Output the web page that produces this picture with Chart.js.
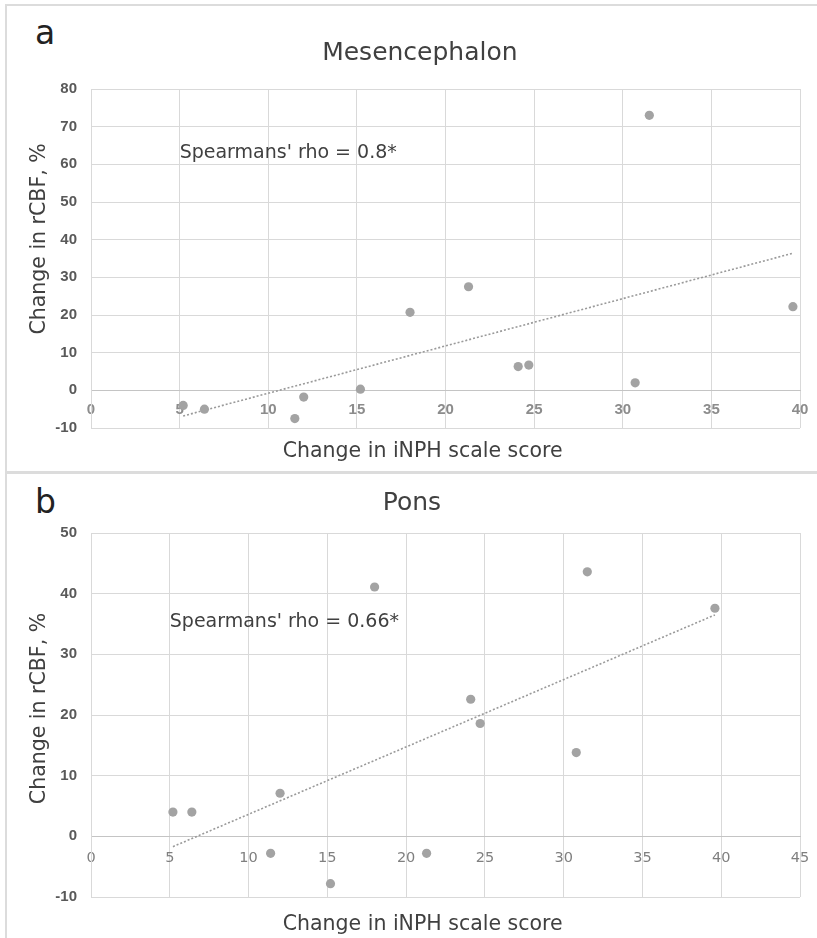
<!DOCTYPE html>
<html>
<head>
<meta charset="utf-8">
<script src="https://cdn.jsdelivr.net/npm/chart.js@4.4.1/dist/chart.umd.min.js"></script>
<style>
  body { margin: 0; width: 817px; height: 938px; overflow: hidden; background: #fff; position: relative; }
  .line { position: absolute; background: #dcdcdc; }
  .wrap { position: absolute; left: 8px; width: 809px; }
  .tag { position: absolute; font-family: 'DejaVu Sans', sans-serif; font-size: 33px; color: #222; line-height: 1; }
</style>
</head>
<body>
<div class="line" style="left:5px; top:4px; width:812px; height:2px;"></div>
<div class="line" style="left:5px; top:4px; width:2px; height:934px;"></div>
<div class="line" style="left:5px; top:471px; width:812px; height:3px;"></div>

<div class="tag" style="left:35px; top:16px;">a</div>
<div class="tag" style="left:35px; top:485px;">b</div>

<div class="wrap" style="top:6px; height:466px;"><canvas id="chartA"></canvas></div>
<div class="wrap" style="top:475px; height:463px;"><canvas id="chartB"></canvas></div>

<script>
// Mesencephalon
const mesX = [5.2, 6.4, 11.5, 12.0, 15.2, 18.0, 21.3, 24.1, 24.7, 30.7, 31.5, 39.6];
const mesY = [-4.0, -5.0, -7.5, -1.8, 0.3, 20.7, 27.5, 6.3, 6.7, 2.0, 73.0, 22.2];
const mesTrendX = [5.2, 39.6];
const mesTrendY = [-6.8, 36.4];

// Pons
const ponsX = [5.2, 6.4, 11.4, 12.0, 15.2, 18.0, 21.3, 24.1, 24.7, 30.8, 31.5, 39.6];
const ponsY = [4.0, 4.0, -2.8, 7.1, -7.8, 41.1, -2.8, 22.6, 18.6, 13.8, 43.6, 37.6];
const ponsTrendX = [5.2, 39.6];
const ponsTrendY = [-1.7, 36.5];

const xTitle = 'Change in iNPH scale score';
const yTitle = 'Change in rCBF, %';

const toPoints = (xs, ys) => xs.map((x, i) => ({ x: x, y: ys[i] }));
const pad = n => ' '.repeat(n);

// draws the rho text at a data position
const notePlugin = {
  id: 'note',
  afterDatasetsDraw(chart, args, opts) {
    const { ctx, scales } = chart;
    ctx.save();
    ctx.font = '19px "DejaVu Sans", sans-serif';
    ctx.fillStyle = '#404040';
    ctx.textAlign = 'left';
    ctx.textBaseline = 'middle';
    ctx.fillText(opts.text, scales.x.getPixelForValue(opts.x), scales.y.getPixelForValue(opts.y));
    ctx.restore();
  }
};

function makeChart(id, cfg) {
  const grid = '#d9d9d9';
  return new Chart(document.getElementById(id), {
    type: 'scatter',
    data: {
      datasets: [{
        data: toPoints(cfg.xs, cfg.ys),
        backgroundColor: '#a3a3a3',
        borderWidth: 0,
        pointRadius: 4.6
      }, {
        data: toPoints(cfg.tx, cfg.ty),
        showLine: true,
        borderColor: '#9a9a9a',
        borderWidth: 1.6,
        borderDash: [2, 2],
        pointRadius: 0
      }]
    },
    options: {
      responsive: true,
      maintainAspectRatio: false,
      animation: false,
      layout: { padding: { left: 0, right: 17, top: 0, bottom: 0 } },
      plugins: {
        legend: { display: false },
        tooltip: { enabled: false },
        title: {
          display: true,
          // leading spaces nudge the centred title to the right
          text: pad(cfg.titleSpaces) + cfg.title,
          color: '#404040',
          font: { family: 'DejaVu Sans', size: 25, weight: 'normal' },
          padding: cfg.titlePad
        },
        note: { text: cfg.note, x: 5, y: cfg.noteY }
      },
      scales: {
        x: {
          type: 'linear',
          position: { y: 0 },
          min: 0, max: cfg.xMax,
          afterFit: s => { s.height = 0; s.paddingLeft = 0; s.paddingRight = 0; },
          grid: { color: grid, drawTicks: false },
          border: { color: '#c4c4c4' },
          ticks: {
            stepSize: 5, autoSkip: false, maxRotation: 0, padding: cfg.xTickPad,
            color: cfg.xTickColor,
            font: cfg.xTickFont
          }
        },
        xt: {
          type: 'linear',
          axis: 'x',
          position: 'bottom',
          min: 0, max: cfg.xMax,
          grid: { display: false, drawTicks: false },
          border: { display: false },
          ticks: { display: false },
          title: {
            display: true,
            text: xTitle + pad(7),
            color: '#404040',
            font: { family: 'DejaVu Sans', size: 20.5 },
            padding: cfg.xTitlePad
          }
        },
        y: {
          min: cfg.yMin, max: cfg.yMax,
          afterFit: s => { s.width = 83; },
          grid: {
            drawTicks: false,
            color: c => c.tick && c.tick.value === 0 ? '#c4c4c4' : grid
          },
          border: { color: grid },
          ticks: {
            stepSize: 10, padding: 14,
            color: '#595959',
            font: { family: 'Liberation Sans', size: 15, weight: 'bold' }
          },
          title: {
            display: true,
            text: pad(cfg.ySpaces) + yTitle,
            color: '#404040',
            font: { family: 'DejaVu Sans', size: 20.5 },
            padding: { top: 19.5, bottom: 0 }
          }
        }
      }
    },
    plugins: [notePlugin]
  });
}

makeChart('chartA', {
  xs: mesX, ys: mesY, tx: mesTrendX, ty: mesTrendY,
  title: 'Mesencephalon', titleSpaces: 4,
  titlePad: { top: 32, bottom: 21 },
  note: "Spearmans' rho = 0.8*", noteY: 63,
  xMax: 40, yMin: -10, yMax: 80,
  xTickColor: '#8c8c8c', xTickPad: 11,
  xTickFont: { family: 'Liberation Sans', size: 15, weight: 'bold' },
  xTitlePad: { top: 11.7, bottom: 7.7 },
  ySpaces: 6
});

makeChart('chartB', {
  xs: ponsX, ys: ponsY, tx: ponsTrendX, ty: ponsTrendY,
  title: 'Pons', titleSpaces: 2,
  titlePad: { top: 13, bottom: 15 },
  note: "Spearmans' rho = 0.66*", noteY: 35.3,
  xMax: 45, yMin: -10, yMax: 50,
  xTickColor: '#7f7f7f', xTickPad: 13,
  xTickFont: { family: 'DejaVu Sans', size: 14.5, weight: 'normal' },
  xTitlePad: { top: 15.7, bottom: 0.7 },
  ySpaces: 2
});
</script>
</body>
</html>
